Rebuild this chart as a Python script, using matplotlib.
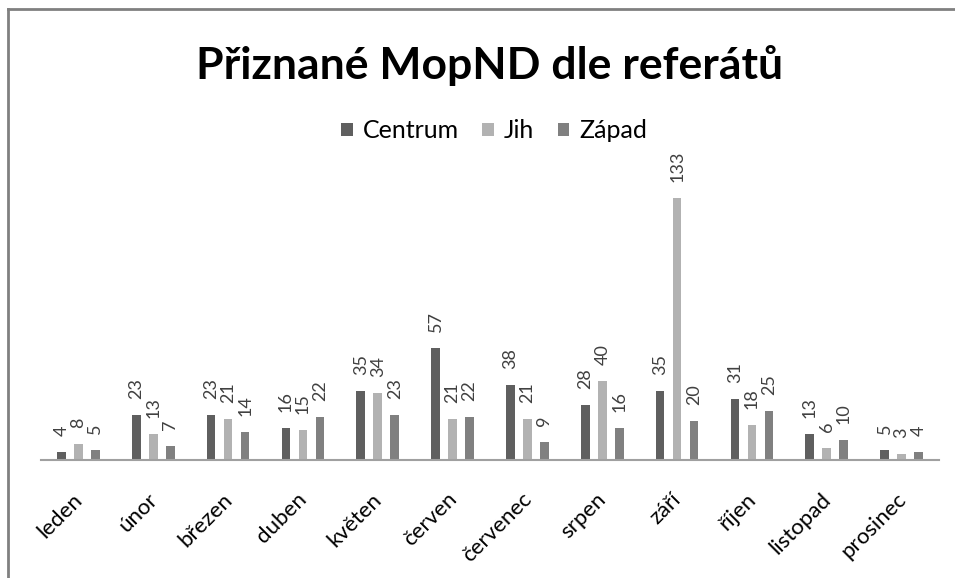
import matplotlib
matplotlib.use("Agg")
import matplotlib.pyplot as plt
from matplotlib.transforms import ScaledTranslation
import numpy as np

months = ["leden", "únor", "březen", "duben", "květen", "červen", "červenec",
          "srpen", "září", "říjen", "listopad", "prosinec"]
centrum = [4, 23, 23, 16, 35, 57, 38, 28, 35, 31, 13, 5]
jih = [8, 13, 21, 15, 34, 21, 21, 40, 133, 18, 6, 3]
zapad = [5, 7, 14, 22, 23, 22, 9, 16, 20, 25, 10, 4]
series_names = ["Centrum", "Jih", "Západ"]
colors = ["#5f5f5f", "#b2b2b2", "#808080"]

plt.rcParams['font.family'] = ['Lato', 'DejaVu Sans']

fig = plt.figure(figsize=(9.55, 5.78), dpi=100)
ax = fig.add_axes([41 / 955, 118 / 578, 898 / 955, 276 / 578])

x = np.arange(len(months))
w = 0.114
off = 0.227
for i, (vals, name, c) in enumerate(zip([centrum, jih, zapad], series_names, colors)):
    xs = x + (i - 1) * off
    ax.bar(xs, vals, width=w, color=c, label=name, zorder=2)
    for xi, v in zip(xs, vals):
        ax.annotate(str(v), (xi, v), xytext=(0, 11.5), textcoords="offset points",
                    rotation=90, ha="center", va="bottom", fontsize=13,
                    color="#404040")

ax.set_xlim(-0.5, len(months) - 0.5)
ax.set_ylim(0, 140)
ax.set_yticks([])
ax.set_xticks(x)
ax.set_xticklabels(months, rotation=45, ha="right", va="top",
                   rotation_mode="anchor", fontsize=16, color="black")
ax.tick_params(axis="x", length=0, pad=21)
shift = ScaledTranslation(-6 / 100, 0, fig.dpi_scale_trans)
for lbl in ax.get_xticklabels():
    lbl.set_transform(lbl.get_transform() + shift)
for s in ["top", "right", "left"]:
    ax.spines[s].set_visible(False)
ax.spines["bottom"].set_color("#a0a0a0")
ax.spines["bottom"].set_linewidth(1.5)

fig.text(490 / 955, 1 - 66 / 578, "Přiznané MopND dle referátů", ha="center",
         va="center", fontsize=32, fontweight="bold", color="black")

fig.legend(loc="center", bbox_to_anchor=(494 / 955, 1 - 131 / 578), ncol=3,
           frameon=False, fontsize=18, handlelength=0.45, handleheight=0.45,
           handletextpad=0.4, columnspacing=0.95)

# chart border (left and top edges)
fig.add_artist(plt.Line2D([8 / 955, 8 / 955], [0, 1 - 9 / 578],
                          transform=fig.transFigure, color="#808080", lw=2))
fig.add_artist(plt.Line2D([8 / 955, 1], [1 - 9 / 578, 1 - 9 / 578],
                          transform=fig.transFigure, color="#808080", lw=2))

fig.savefig("out.png", dpi=100)
